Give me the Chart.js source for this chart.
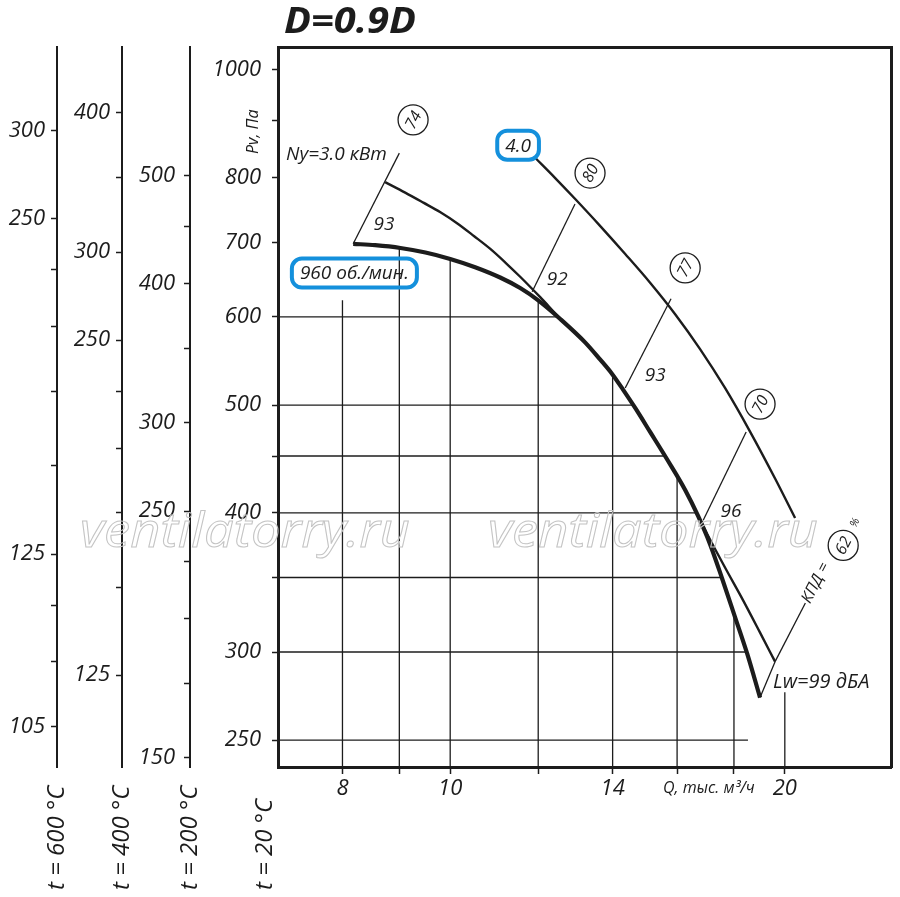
<!DOCTYPE html>
<html>
<head>
<meta charset="utf-8">
<title>D=0.9D</title>
<script src="https://cdn.jsdelivr.net/npm/chart.js@4.4.0/dist/chart.umd.min.js"></script>
<style>
    html, body { margin: 0; padding: 0; background: #fff; }
    #wrap { width: 900px; height: 897px; }
</style>
</head>
<body>
<div id="wrap"><canvas id="fan" width="900" height="897"></canvas></div>
<script>
const INK = '#1c1c1c';
const BLUE = '#1490dc';
const FONT = '"Open Sans", "DejaVu Sans", sans-serif';

// axis ranges (Q, тыс. м3/ч and Pv, Па at t = 20 °C)
const qMin = 7.0, qMax = 24.92;
const pMin = 236.5, pMax = 1048.7;

// pressure ratio of the temperature scales against t = 20 °C
const t200Ratio = 1.6064, t400Ratio = 2.2875, t600Ratio = 2.939;

// ticks
const qTicks = [8, 9, 10, 12, 14, 16, 18, 20];
const qTickLabels = ['8', '', '10', '', '14', '', '', '20'];
const pTicks = [1000, 900, 800, 700, 600, 500, 450, 400, 350, 300, 250];
const pTickLabels = ['1000', '', '800', '700', '600', '500', '', '400', '', '300', '250'];
const t200Ticks = [500, 450, 400, 350, 300, 250, 225, 200, 175, 150];
const t200Labels = ['500', '', '400', '', '300', '250', '', '', '', '150'];
const t400Ticks = [400, 350, 300, 250, 225, 200, 175, 150, 125];
const t400Labels = ['400', '', '300', '250', '', '', '', '', '125'];
const t600Ticks = [300, 250, 225, 200, 175, 150, 125, 112.5, 100, 87.5];
const t600Labels = ['300', '250', '', '', '', '', '125', '', '', '105'];
const tempNames = ['t = 600 °C', 't = 400 °C', 't = 200 °C', 't = 20 °C'];

// pressure curve at 960 об./мин.
const presQ = [8.18, 8.56, 9.02, 9.50, 10.0, 10.53, 11.09, 11.56, 12.0, 12.56, 13.23, 13.64,
               13.99, 14.31, 14.67, 15.13, 15.67, 16.27, 16.71, 17.13, 17.56, 18.04, 18.5, 19.0];
const presP = [698, 696, 692, 685.5, 676.5, 665, 651, 637, 621, 597.5, 569, 549.5,
               533, 516, 497, 473, 447, 419.5, 397.5, 375, 349.5, 322.5, 299, 273];

// curve Ny=3.0 кВт
const powQ = [8.74, 9.11, 9.46, 9.80, 10.15, 10.51, 10.86, 11.21, 11.56, 12.05, 12.56, 13.23, 13.64,
              13.99, 14.31, 14.67, 15.13, 15.67, 16.27, 16.71, 17.13, 17.67, 18.35, 19.0, 19.6];
const powP = [793, 776, 760, 745, 728, 709, 691, 671.5, 652, 625, 598, 569, 549.5,
              533, 516, 497, 473, 447, 419.5, 397.5, 378.6, 357.3, 333.7, 312.3, 294.1];

// curve 4.0
const upQ = [11.93, 12.43, 12.95, 13.64, 14.37, 15.13, 15.93, 16.78, 17.67, 18.61, 19.60, 20.43];
const upP = [833.6, 799.7, 766.1, 724.4, 683.4, 644.0, 603.7, 561.4, 518.0, 473.3, 429.5, 395.8];

// short straight marker lines: start (a) -> end (b)
const effQa = [8.18, 11.85, 14.37, 16.89, 19.0, 19.6];
const effPa = [698, 632, 518, 394, 273, 294.1];
const effQb = [9.0, 12.95, 15.8, 18.46, 19.6, 20.87];
const effPb = [842, 758, 623, 473, 294.1, 332];

// grid, cut at the curve
const gridP = [600, 500, 450, 400, 350, 300, 250];
const gridPEnd = [12.53, 14.65, 15.64, 16.69, 17.57, 18.5, 18.53];
const gridQ = [8, 9, 10, 12, 14, 16, 18, 20];
const gridQTop = [621, 692, 676.5, 621, 533, 432, 325, 276];

// labels placed at (Q, P)
const notes = [
    { t: 'Ny=3.0 кВт', q: 7.90, p: 839, size: 19 },
    { t: '93', q: 8.72, p: 727, size: 19 },
    { t: '92', q: 12.48, p: 648, size: 19 },
    { t: '93', q: 15.29, p: 531, size: 19 },
    { t: '96', q: 17.89, p: 401, size: 19 },
    { t: 'Lw=99 дБА', q: 19.52, p: 282, size: 20, align: 'left' }
];
const boxed = [
    { t: '960 об./мин.', q: 8.20, p: 657 },
    { t: '4.0', q: 11.51, p: 856 }
];
const circled = [
    { t: '74', q: 9.26, p: 902 },
    { t: '80', q: 13.36, p: 808 },
    { t: '77', q: 16.27, p: 664 },
    { t: '70', q: 19.0, p: 501 },
    { t: '62', q: 22.57, p: 374 }
];

function path(qs, ps, width, smooth) {
    return {
        data: qs.map((q, i) => ({ x: q, y: ps[i] })),
        xAxisID: 'x',
        yAxisID: 'y',
        showLine: true,
        borderColor: INK,
        borderWidth: width,
        pointRadius: 0,
        cubicInterpolationMode: smooth ? 'monotone' : 'default',
        tension: 0,
        fill: false
    };
}

const datasets = [];
datasets.push(path(presQ, presP, 4.2, true));
datasets.push(path(powQ, powP, 2.4, true));
datasets.push(path(upQ, upP, 2.4, true));
effQa.forEach((q, i) => datasets.push(path([q, effQb[i]], [effPa[i], effPb[i]], 1.3)));
gridP.forEach((p, i) => datasets.push(path([qMin, gridPEnd[i]], [p, p], 1.3)));
gridQ.forEach((q, i) => datasets.push(path([q, q], [pMin, gridQTop[i]], 1.3)));

const tickFont = { family: FONT, size: 22, style: 'italic' };

function pressureAxis(weight, width, min, max, ticks, labels, pad, borderWidth) {
    return {
        type: 'logarithmic',
        position: 'left',
        weight: weight,
        min: min,
        max: max,
        afterBuildTicks: ax => { ax.ticks = ticks.map(v => ({ value: v })); },
        afterFit: ax => { ax.width = width; },
        ticks: {
            callback: (v, i) => labels[i],
            font: tickFont,
            color: INK,
            padding: pad,
            autoSkip: false
        },
        grid: { drawOnChartArea: false, tickLength: 6, tickWidth: 1.5, tickColor: INK },
        border: { display: true, width: borderWidth, color: INK }
    };
}

// draw text stretched to a given width
function fitText(ctx, text, x, y, width) {
    const w = ctx.measureText(text).width;
    ctx.save();
    ctx.translate(x, y);
    ctx.scale(width / w, 1);
    ctx.fillText(text, 0, 0);
    ctx.restore();
}

const decor = {
    id: 'decor',
    afterDraw(chart) {
        const { ctx, chartArea: area, scales } = chart;
        const px = q => scales.x.getPixelForValue(q);
        const py = p => scales.y.getPixelForValue(p);
        const ang = Math.atan2(py(effPb[5]) - py(effPa[5]), px(effQb[5]) - px(effQa[5]));
        ctx.save();
        ctx.fillStyle = INK;
        ctx.strokeStyle = INK;

        // title
        ctx.font = `italic 700 35px ${FONT}`;
        ctx.textAlign = 'left';
        ctx.textBaseline = 'alphabetic';
        fitText(ctx, 'D=0.9D', area.left + 6, 33, 132);

        // axis names
        ctx.font = `italic 16px ${FONT}`;
        ctx.save();
        ctx.translate(area.left - 25, py(880));
        ctx.rotate(-Math.PI / 2);
        ctx.textAlign = 'center';
        ctx.textBaseline = 'middle';
        ctx.fillText('Pv, Па', 0, 0);
        ctx.restore();

        ctx.textAlign = 'left';
        ctx.textBaseline = 'middle';
        ctx.fillText('Q, тыс. м³/ч', px(15.54), area.bottom + 21);

        // temperature captions under the scales
        ctx.font = `italic 24px ${FONT}`;
        const tx = [scales.y600.right, scales.y400.right, scales.y200.right, scales.y.right - 13];
        tempNames.forEach((t, i) => {
            ctx.save();
            ctx.translate(tx[i], chart.height - 7);
            ctx.rotate(-Math.PI / 2);
            ctx.textAlign = 'left';
            ctx.textBaseline = 'middle';
            ctx.fillText(t, 0, 0);
            ctx.restore();
        });

        // plain labels
        ctx.textBaseline = 'middle';
        notes.forEach(n => {
            ctx.font = `italic ${n.size}px ${FONT}`;
            ctx.textAlign = n.align || 'center';
            ctx.fillText(n.t, px(n.q), py(n.p));
        });

        // blue boxed labels
        ctx.font = `italic 19px ${FONT}`;
        boxed.forEach(b => {
            const w = ctx.measureText(b.t).width + 16, h = 29;
            const cx = px(b.q), cy = py(b.p);
            ctx.lineWidth = 4;
            ctx.strokeStyle = BLUE;
            ctx.beginPath();
            ctx.roundRect(cx - w / 2, cy - h / 2, w, h, 10);
            ctx.stroke();
            ctx.textAlign = 'center';
            ctx.fillText(b.t, cx, cy + 1);
        });

        // circled numbers
        circled.forEach(c => {
            const cx = px(c.q), cy = py(c.p);
            ctx.beginPath();
            ctx.arc(cx, cy, 15, 0, 2 * Math.PI);
            ctx.fillStyle = '#fff';
            ctx.fill();
            ctx.lineWidth = 1.3;
            ctx.strokeStyle = INK;
            ctx.stroke();
            ctx.save();
            ctx.translate(cx, cy);
            ctx.rotate(ang);
            ctx.fillStyle = INK;
            ctx.font = `italic 16px ${FONT}`;
            ctx.textAlign = 'center';
            ctx.textBaseline = 'middle';
            ctx.fillText(c.t, 0, 1);
            ctx.restore();
        });

        // КПД = (62) %
        ctx.fillStyle = INK;
        ctx.save();
        ctx.translate(px(effQb[5]), py(effPb[5]));
        ctx.rotate(ang);
        ctx.font = `italic 16px ${FONT}`;
        ctx.textAlign = 'left';
        ctx.textBaseline = 'middle';
        ctx.fillText('КПД =', 1, 0);
        ctx.restore();
        ctx.save();
        ctx.translate(px(23.13), py(392));
        ctx.rotate(ang);
        ctx.font = `italic 11px ${FONT}`;
        ctx.textAlign = 'center';
        ctx.textBaseline = 'middle';
        ctx.fillText('%', 0, 0);
        ctx.restore();

        // watermark
        ctx.font = `italic 48px ${FONT}`;
        ctx.strokeStyle = '#c4c4c4';
        ctx.lineWidth = 1;
        ctx.textAlign = 'left';
        ctx.textBaseline = 'alphabetic';
        const mark = 'ventilatorry.ru';
        const mw = ctx.measureText(mark).width;
        [80, 488].forEach(wx => {
            ctx.save();
            ctx.translate(wx, 547);
            ctx.scale(330 / mw, 1);
            ctx.strokeText(mark, 0, 0);
            ctx.restore();
        });

        ctx.restore();
    }
};

new Chart(document.getElementById('fan').getContext('2d'), {
    type: 'scatter',
    data: { datasets: datasets },
    plugins: [decor],
    options: {
        responsive: false,
        animation: false,
        events: [],
        layout: { padding: 0 },
        plugins: {
            legend: { display: false },
            tooltip: { enabled: false }
        },
        scales: {
            x: {
                type: 'logarithmic',
                position: 'bottom',
                min: qMin,
                max: qMax,
                afterBuildTicks: ax => { ax.ticks = qTicks.map(v => ({ value: v })); },
                afterFit: ax => { ax.height = 130; },
                ticks: {
                    callback: (v, i) => qTickLabels[i],
                    font: tickFont,
                    color: INK,
                    padding: 2,
                    autoSkip: false,
                    maxRotation: 0
                },
                grid: { drawOnChartArea: false, tickLength: 7, tickWidth: 1.5, tickColor: INK },
                border: { display: true, width: 3, color: INK }
            },
            y: pressureAxis(0, 88, pMin, pMax, pTicks, pTickLabels, 11, 3),
            y200: pressureAxis(1, 68, pMin / t200Ratio, pMax / t200Ratio, t200Ticks, t200Labels, 9, 2),
            y400: pressureAxis(2, 65, pMin / t400Ratio, pMax / t400Ratio, t400Ticks, t400Labels, 6, 2),
            y600: pressureAxis(3, 57, pMin / t600Ratio, pMax / t600Ratio, t600Ticks, t600Labels, 6, 2),
            xTop: {
                type: 'linear',
                position: 'top',
                afterFit: ax => { ax.height = 47; },
                ticks: { display: false },
                grid: { display: false, drawTicks: false },
                border: { display: true, width: 3, color: INK }
            },
            yRight: {
                type: 'linear',
                position: 'right',
                afterFit: ax => { ax.width = 9; },
                ticks: { display: false },
                grid: { display: false, drawTicks: false },
                border: { display: true, width: 3, color: INK }
            }
        }
    }
});
</script>
</body>
</html>
